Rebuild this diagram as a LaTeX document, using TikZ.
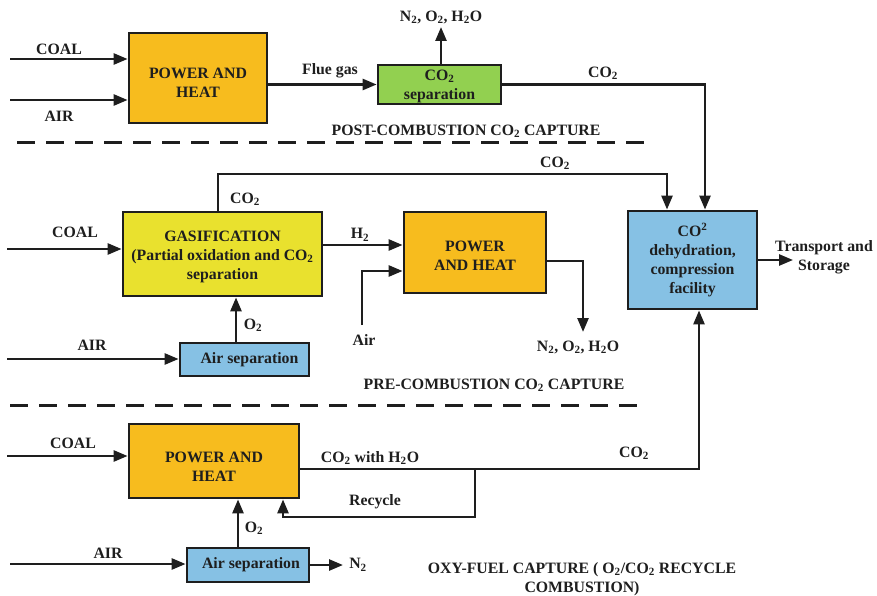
\documentclass[tikz,border=0pt]{standalone}
\usepackage{fontspec}
\setmainfont{Liberation Serif}
\usetikzlibrary{arrows.meta}
\definecolor{ink}{HTML}{1E1E1E}
\definecolor{orangebox}{HTML}{F7BC1E}
\definecolor{greenbox}{HTML}{92D050}
\definecolor{yellowbox}{HTML}{E9E12E}
\definecolor{bluebox}{HTML}{86C1E4}
\newcommand{\sub}[1]{\textsubscript{#1}}
\tikzset{
  every node/.style={font=\fontsize{15.8}{19}\selectfont\bfseries, text=ink},
  box/.style={draw=ink, line width=2.8pt, inner sep=2pt, align=center},
  flow/.style={draw=ink, line width=2.6pt, -{Triangle[length=14pt,width=11pt]}},
  divider/.style={draw=ink, line width=3pt, dash pattern=on 18pt off 11pt},
  lbl/.style={inner sep=0pt, align=center}
}
\begin{document}
\begin{tikzpicture}[x=1pt,y=-1pt]
\useasboundingbox (0,0) rectangle (877,596);

% ---------- process blocks ----------
\node[box, fill=orangebox, minimum width=138, minimum height=90] (pw1) at (198,78) {};
\node[lbl] (pw1t) at ([yshift=-5pt]pw1.center) {POWER AND\\HEAT};
\node[box, fill=greenbox, minimum width=123, minimum height=39] (sep1) at (439.5,84.5) {};
\node[lbl] (sep1t) at ([yshift=-2pt]sep1.center) {CO\sub{2}\\separation};
\node[box, fill=yellowbox, minimum width=199, minimum height=84] (gas) at (222.5,254) {};
\node[lbl] (gast) at ([yshift=-3pt]gas.center) {GASIFICATION\\(Partial oxidation and CO\sub{2}\\separation};
\node[box, fill=orangebox, minimum width=142, minimum height=81] (pw2) at (475,252.5) {};
\node[lbl] (pw2t) at ([yshift=-3.5pt]pw2.center) {POWER\\AND HEAT};
\node[box, fill=bluebox, minimum width=129, minimum height=33] (asep1) at (244.5,359.5) {\hspace*{10pt}Air separation};
\node[box, fill=bluebox, minimum width=129, minimum height=98] (comp) at (692.5,260) {CO\textsuperscript{2}\\dehydration,\\compression\\facility};
\node[box, fill=orangebox, minimum width=170, minimum height=74] (pw3) at (214,461) {};
\node[lbl] (pw3t) at ([yshift=-6pt]pw3.center) {POWER AND\\HEAT};
\node[box, fill=bluebox, minimum width=122, minimum height=34] (asep2) at (248,565) {\hspace*{6pt}Air separation};

% ---------- free ends and bends ----------
\coordinate (c1) at (10,59);
\coordinate (c2) at (10,100);
\coordinate (vent1) at (441,27);
\coordinate (k1) at (705,0);
\coordinate (r1) at (218,174);
\coordinate (r2) at (667,174);
\coordinate (c3) at (7,249);
\coordinate (h2) at (0,245);
\coordinate (air2) at (362,325);
\coordinate (a2) at (362,271);
\coordinate (o2) at (583,261);
\coordinate (o2b) at (583,332);
\coordinate (c4) at (7,359);
\coordinate (ox1) at (236,0);
\coordinate (ts) at (793,260);
\coordinate (c5) at (7,456);
\coordinate (k3) at (699,469);
\coordinate (rc1) at (475,469);
\coordinate (rc2) at (475,517);
\coordinate (rc3) at (283,517);
\coordinate (ox2) at (238,0);
\coordinate (c6) at (10,564);
\coordinate (n2e) at (343,565);
\coordinate (d1a) at (17,143);
\coordinate (d1b) at (650,143);
\coordinate (d2a) at (10,405);
\coordinate (d2b) at (642,405);

% ---------- post-combustion ----------
\draw[flow] (c1) -- (c1 -| pw1.west);
\draw[flow] (c2) -- (c2 -| pw1.west);
\draw[flow] (pw1.east |- sep1.west) -- (sep1.west);
\draw[flow] (sep1.north -| vent1) -- (vent1);
\draw[flow] (sep1.east) -- (k1 |- sep1.east) -- (k1 |- comp.north);
\draw[divider] (d1a) -- (d1b);

% ---------- pre-combustion ----------
\draw[flow] (gas.north -| r1) -- (r1) -- (r2) -- (r2 |- comp.north);
\draw[flow] (c3) -- (c3 -| gas.west);
\draw[flow] (gas.east |- h2) -- (pw2.west |- h2);
\draw[flow] (air2) -- (a2) -- (a2 -| pw2.west);
\draw[flow] (pw2.east |- o2) -- (o2) -- (o2b);
\draw[flow] (c4) -- (c4 -| asep1.west);
\draw[flow] (ox1 |- asep1.north) -- (ox1 |- gas.south);
\draw[divider] (d2a) -- (d2b);

% ---------- compression outlet ----------
\draw[flow] (comp.east) -- (ts);

% ---------- oxy-fuel ----------
\draw[flow] (c5) -- (c5 -| pw3.west);
\draw[flow] (pw3.east |- k3) -- (k3) -- (k3 |- comp.south);
\draw[flow] (rc1) -- (rc2) -- (rc3) -- (rc3 |- pw3.south);
\draw[flow] (ox2 |- asep2.north) -- (ox2 |- pw3.south);
\draw[flow] (c6) -- (c6 -| asep2.west);
\draw[flow] (asep2.east) -- (n2e);

% ---------- labels ----------
\node[lbl] (lcoal1) at (59,49) {COAL};
\node[lbl] (lair1) at (59,116) {AIR};
\node[lbl] (lflue) at (330,71) {Flue gas};
\node[lbl] (lvent1) at (441,17) {N\sub{2}, O\sub{2}, H\sub{2}O};
\node[lbl] (lco2a) at (603,73) {CO\sub{2}};
\node[lbl] (lpost) at (466,131) {POST-COMBUSTION CO\sub{2} CAPTURE};

\node[lbl] (lco2b) at (555,163) {CO\sub{2}};
\node[lbl] (lco2c) at (245,199) {CO\sub{2}};
\node[lbl] (lcoal2) at (75,232) {COAL};
\node[lbl] (lh2) at (360,235) {H\sub{2}};
\node[lbl] (lair2) at (364,340) {Air};
\node[lbl] (lvent2) at (578,347) {N\sub{2}, O\sub{2}, H\sub{2}O};
\node[lbl] (lair3) at (92,345) {AIR};
\node[lbl] (lo2a) at (253,325) {O\sub{2}};
\node[lbl] (lpre) at (494,385) {PRE-COMBUSTION CO\sub{2} CAPTURE};

\node[lbl] (lts) at (824,257) {Transport and\\Storage};

\node[lbl] (lcoal3) at (73,443) {COAL};
\node[lbl] (lwith) at (370,458) {CO\sub{2} with H\sub{2}O};
\node[lbl] (lco2d) at (634,453) {CO\sub{2}};
\node[lbl] (lrec) at (375,502) {Recycle};
\node[lbl] (lo2b) at (254,528) {O\sub{2}};
\node[lbl] (lair4) at (108,553) {AIR};
\node[lbl] (ln2) at (358,565) {N\sub{2}};
\node[lbl] (loxy) at (582,579) {OXY-FUEL CAPTURE ( O\sub{2}/CO\sub{2} RECYCLE\\COMBUSTION)};
\end{tikzpicture}
\end{document}
